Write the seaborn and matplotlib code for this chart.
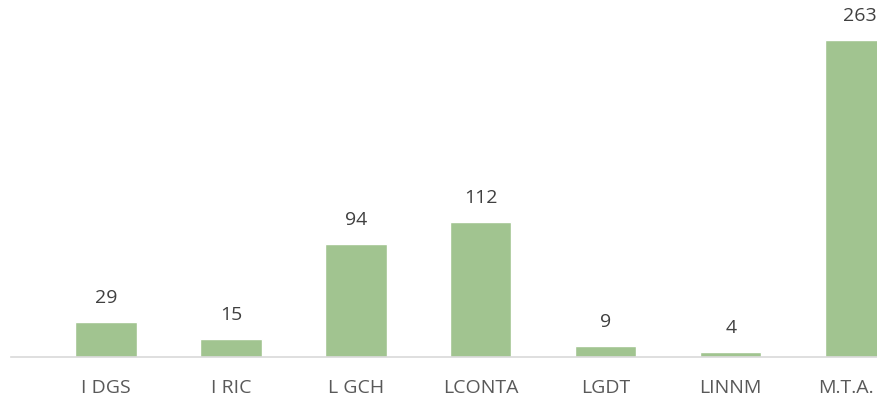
import matplotlib
matplotlib.use("Agg")
import matplotlib.pyplot as plt
import matplotlib.transforms as mtransforms
import seaborn as sns
import pandas as pd

sns.set_style("white")
plt.rcParams["font.family"] = ["Open Sans", "DejaVu Sans"]

categories = ["I DGS", "I RIC", "L GCH", "LCONTA", "LGDT", "LINNM", "M.T.A."]
values = [29, 15, 94, 112, 9, 4, 263]

df = pd.DataFrame({"cat": categories, "val": values})

fig = plt.figure(figsize=(8.77, 4.02), dpi=100)
ax = fig.add_axes([11 / 877, 44 / 402, 866 / 877, 358 / 402])

sns.barplot(data=df, x="cat", y="val", color="#A1C490", width=0.49,
            saturation=1, ax=ax)

ax.set_xlim(-0.76, 6.17)
ax.set_ylim(0, 297)

for i, v in enumerate(values):
    dx = 3 if i == len(values) - 1 else 0
    ax.annotate(str(v), (i, v), xytext=(dx, 18), textcoords="offset points",
                ha="center", va="center", fontsize=14, color="#404040")

for s in ["top", "right", "left"]:
    ax.spines[s].set_visible(False)
ax.spines["bottom"].set_color("#D9D9D9")
ax.spines["bottom"].set_linewidth(1.2)
ax.set_yticks([])
ax.set_xlabel("")
ax.set_ylabel("")
ax.tick_params(axis="x", length=0, pad=15, labelsize=14, labelcolor="#595959")

# last label is pushed inside the figure edge
last = ax.get_xticklabels()[-1]
last.set_horizontalalignment("right")
last.set_transform(last.get_transform() +
                   mtransforms.ScaledTranslation(0.18, 0, fig.dpi_scale_trans))

fig.savefig("out.png", dpi=100)
